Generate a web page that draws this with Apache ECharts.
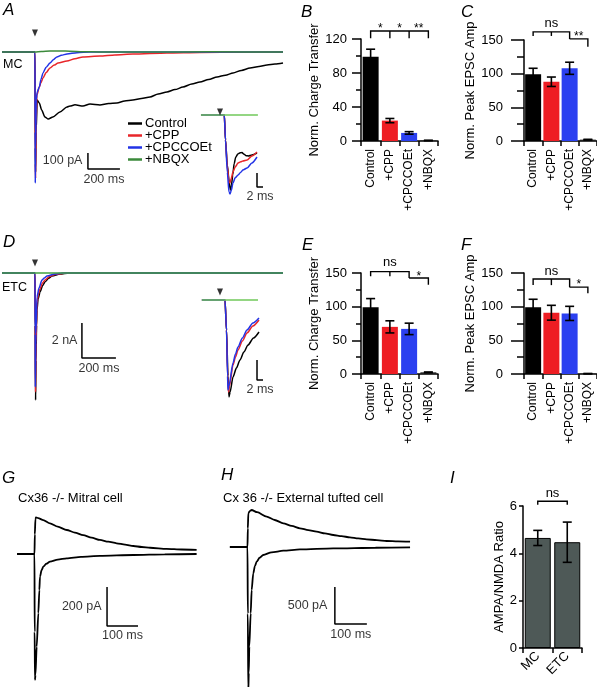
<!DOCTYPE html>
<html><head><meta charset="utf-8">
<script src="https://cdn.jsdelivr.net/npm/echarts@6/dist/echarts.min.js"></script>
<style>html,body{margin:0;padding:0;background:#fff}#c{width:597px;height:687px}</style>
</head><body><div id="c"></div>
<script>
const FONT = '"Liberation Sans", Arial, Helvetica, sans-serif';

// ---------- categories ----------
const drugCats = ['Control', '+CPP', '+CPCCOEt', '+NBQX'];
const cellCats = ['MC', 'ETC'];

// ---------- bar data ----------
const chargeMC = [99, 24, 9.5, 0.6];
const chargeMCErr = [9, 2.5, 1.5, 0.3];
const ampMC = [99, 88, 108, 2];
const ampMCErr = [9, 7, 9, 0.5];
const chargeETC = [99, 70, 67, 2.5];
const chargeETCErr = [13, 9, 8.5, 0.5];
const ampETC = [99, 91, 90, 0.5];
const ampETCErr = [12, 11, 10.5, 0.3];
const ratioVals = [4.65, 4.47];
const ratioErr = [0.32, 0.85];

// significance labels
const sigB = ['*', '*', '**'];
const sigC = ['ns', '**'];
const sigE = ['ns', '*'];
const sigF = ['ns', '*'];
const sigI = ['ns'];

// ---------- traces, panel A (ms, pA) ----------
const ctrlA = [[-206,0],[-5,0],[0,0],[2,-600],[4,-750],[7,-500],[14,-300],[27,-319],[42,-363],[62,-406],[83,-419],[112,-406],[156,-375],[200,-344],[219,-338],[250,-330],[300,-338],[344,-325],[406,-331],[460,-322],[512,-319],[560,-306],[612,-300],[665,-291],[719,-281],[770,-263],[825,-250],[875,-235],[925,-219],[980,-200],[1031,-188],[1085,-172],[1138,-156],[1190,-145],[1238,-131],[1290,-115],[1344,-100],[1400,-90],[1450,-81],[1500,-75],[1550,-69]];
const cppA = [[-206,0],[0,0],[2,-700],[4,-790],[7,-450],[12,-270],[27,-219],[38,-190],[50,-163],[70,-128],[94,-100],[120,-82],[144,-69],[200,-56],[250,-42],[300,-31],[406,-25],[500,-18],[612,-13],[825,-6],[1031,-3],[1300,-1],[1550,0]];
const cpcA = [[-206,0],[0,0],[1,-500],[2,-819],[4,-600],[8,-300],[14,-250],[27,-219],[38,-170],[50,-131],[70,-95],[94,-69],[115,-48],[137,-31],[165,-20],[200,-13],[262,-4],[344,0],[1550,0]];
const nbqxA = [[-206,0],[0,0],[40,3],[94,6],[160,6],[219,5],[300,2],[406,0],[700,0],[1100,1],[1550,0]];
// inset A (ms, pA)
const ctrlAi = [[-7.7,0],[0,0],[0.4,-175],[1.0,-350],[1.57,-455],[1.9,-515],[2.1,-525],[2.4,-490],[2.8,-420],[3.3,-340],[3.8,-295],[4.5,-273],[5.3,-264],[5.9,-263],[6.6,-275],[7.3,-285],[8.0,-287],[9.2,-280],[10.9,-266]];
const cppAi = [[-7.7,0],[0,0],[0.4,-175],[1.0,-360],[1.57,-469],[1.9,-475],[2.3,-445],[2.9,-399],[3.6,-365],[4.6,-336],[5.5,-328],[6.2,-322],[7.6,-315],[9.2,-287],[10.9,-259]];
const cpcAi = [[-7.7,0],[0,0],[0.4,-175],[1.0,-400],[1.57,-540],[1.9,-553],[2.3,-530],[2.9,-476],[3.6,-440],[4.6,-420],[5.5,-400],[6.2,-385],[7.6,-371],[9.2,-336],[10.9,-294]];
const nbqxAi = [[-7.8,0],[11.2,0]];

// ---------- traces, panel D (ms, nA) ----------
const ctrlD = [[-194,0],[0,0],[1,-3],[3.5,-7.26],[6,-5],[9,-3],[11.8,-2.11],[18,-1.5],[29.4,-1.09],[45,-0.72],[58.8,-0.51],[80,-0.3],[100,-0.17],[147,-0.06],[200,0],[1459,0]];
const cppD = [[-194,0],[0,0],[1,-3],[2.9,-6.8],[6,-4],[11.8,-1.71],[20,-1.2],[29.4,-0.91],[45,-0.55],[58.8,-0.4],[85,-0.2],[118,-0.09],[180,0],[1459,0]];
const cpcD = [[-194,0],[0,0],[1,-3.5],[1.8,-6.51],[5,-3.5],[11.8,-1.37],[23.5,-0.86],[41,-0.4],[55,-0.28],[70.6,-0.17],[118,-0.06],[160,0],[1459,0]];
const nbqxD = [[-194,0],[1459,0]];
// inset D
const ctrlDi = [[-7.7,0],[0,0],[0.5,-1.5],[1.0,-3.8],[1.33,-4.85],[1.7,-4.6],[2.67,-3.85],[3.8,-3.4],[5,-3.0],[6.3,-2.6],[7.67,-2.25],[9.5,-1.9],[11.33,-1.6]];
const cppDi = [[-7.7,0],[0,0],[0.5,-1.5],[0.9,-3.8],[1.17,-4.6],[1.5,-4.3],[2.67,-3.25],[3.5,-2.85],[4.33,-2.5],[5.8,-2.05],[7.33,-1.65],[9.3,-1.3],[11.33,-1.0]];
const cpcDi = [[-7.7,0],[0,0],[0.5,-1.5],[0.85,-3.8],[1.0,-4.5],[1.3,-4.3],[2.67,-3.15],[3.5,-2.7],[4.33,-2.35],[5.8,-1.9],[7.33,-1.5],[9.3,-1.15],[11.33,-0.9]];
const nbqxDi = [[-7.7,0],[11,0]];

// ---------- traces, panels G and H (ms, pA) ----------
const upG = [[-56,0],[0,0],[1,100],[3,180],[4.8,188],[12,184],[28.5,174],[50,157],[75,140],[104,123],[130,110],[157,97],[184,84],[211,72],[238,63],[265,55],[292,48],[319,41],[346,36],[373,32],[426,26],[475,23],[523,21]];
const downG = [[-56,0],[0,0],[0.5,-400],[1.5,-646],[3,-620],[7,-476],[12.4,-303],[15.6,-185],[17.7,-116],[23,-82],[28.5,-65],[38,-50],[50,-39],[75,-29],[104,-22],[150,-15],[211,-10],[319,-5],[420,-2],[523,0]];
const upH = [[-55,0],[0,0],[1,250],[2.6,455],[7,485],[13,500],[30,470],[60,410],[85,365],[112,320],[138,285],[164,252],[190,228],[216,207],[242,184],[268,162],[294,146],[320,131],[346,117],[372,104],[404,92],[435,81],[470,76],[508,72]];
const downH = [[-55,0],[0,0],[1,-900],[2.5,-1950],[4,-1700],[5.6,-1346],[10,-896],[13,-581],[18,-356],[23,-260],[28.6,-198],[38,-145],[49,-108],[75,-72],[112,-50],[164,-32],[268,-18],[400,-10],[508,-5]];

// ---------- stimulus markers ----------
const stimA = [[0, 119]];
const stimAi = [[-1.43, 21]];
const stimD = [[0, 0.57]];
const stimDi = [[-1.67, 0.4]];

// ---------- scale bars ----------
const barA = [[331,-631],[331,-731],[531,-731]];
const barAi = [[10.9,-406],[10.9,-504],[12.9,-504]];
const barD = [[276,-2.86],[276,-4.86],[476,-4.86]];
const barDi = [[10.67,-3.0],[10.67,-4.0],[12.67,-4.0]];
const barG = [[234,-169],[234,-369],[334,-369]];
const barH = [[273,-540],[273,-1040],[373,-1040]];
const labA = ['100 pA', '200 ms'];
const labAi = ['2 ms'];
const labD = ['2 nA', '200 ms'];
const labDi = ['2 ms'];
const labG = ['200 pA', '100 ms'];
const labH = ['500 pA', '100 ms'];

const drugColors = ['#000000', '#ee1d23', '#2b40f0', '#222222'];
const traceCol = { ctrl: '#000000', cpp: '#e8262a', cpc: '#2233e6', nbqxMain: '#3b8a3b', nbqxD: '#40a040', nbqxIn: '#70c95a' };

// ---------- layout ----------
const grids = [
  { left: 2, top: 28, width: 281, height: 160 },        // 0 A main
  { left: 200.3, top: 107.86, width: 66, height: 92.86 },// 1 A inset
  { left: 2, top: 259, width: 281, height: 147 },        // 2 D main
  { left: 201, top: 288, width: 66, height: 116 },       // 3 D inset
  { left: 15.9, top: 505.25, width: 186, height: 185.25 },// 4 G
  { left: 228.3, top: 502.6, width: 188.8, height: 192.4 },// 5 H
  { left: 361, top: 39, width: 77, height: 102 },        // 6 B
  { left: 524, top: 40, width: 73, height: 101 },        // 7 C
  { left: 361, top: 273, width: 77, height: 101 },       // 8 E
  { left: 524, top: 273, width: 73, height: 101 },       // 9 F
  { left: 523, top: 506, width: 59, height: 142 }        // 10 I
].map(g => Object.assign({ outerBoundsMode: 'none', containLabel: false }, g));

const traceRanges = [
  [-206, 1550, -850, 150],
  [-8, 14, -600, 50],
  [-194.1, 1458.8, -7.6, 0.8],
  [-8, 14, -5.2, 0.6],
  [-60, 540, -700, 250],
  [-60, 530, -2000, 600]
];

const xAxes = [], yAxes = [];
traceRanges.forEach((r, i) => {
  xAxes.push({ type: 'value', gridIndex: i, min: r[0], max: r[1], show: false });
  yAxes.push({ type: 'value', gridIndex: i, min: r[2], max: r[3], show: false });
});

const axLine = { show: true, lineStyle: { color: '#000', width: 1.5 } };
function barXAxis(gi, cats, rotate, fs, margin) {
  return { type: 'category', gridIndex: gi, data: cats,
    axisLine: axLine,
    axisTick: { show: true, alignWithLabel: false, length: 5, lineStyle: { color: '#000', width: 1.5 } },
    axisLabel: { rotate: rotate, fontSize: fs, margin: margin, color: '#000', fontFamily: FONT },
    splitLine: { show: false } };
}
function barYAxis(gi, max, interval, name, tickLen, minorLen, margin, nameGap, minor) {
  return { type: 'value', gridIndex: gi, min: 0, max: max, interval: interval,
    axisLine: axLine,
    axisTick: { show: true, length: tickLen, lineStyle: { color: '#000', width: 1.5 } },
    minorTick: { show: minor, splitNumber: 2, length: minorLen, lineStyle: { color: '#000', width: 1.5 } },
    splitLine: { show: false }, minorSplitLine: { show: false },
    axisLabel: { fontSize: 13, margin: margin, color: '#000', fontFamily: FONT },
    name: name, nameLocation: 'middle', nameGap: nameGap,
    nameTextStyle: { fontSize: 13, color: '#000', fontFamily: FONT } };
}
xAxes.push(barXAxis(6, drugCats, 90, 12, 8));
yAxes.push(barYAxis(6, 120, 40, 'Norm. Charge Transfer', 9, 5, 14, 36, true));
xAxes.push(barXAxis(7, drugCats, 90, 12, 8));
yAxes.push(barYAxis(7, 150, 50, 'Norm. Peak EPSC Amp', 13, 7, 21, 44, true));
xAxes.push(barXAxis(8, drugCats, 90, 12, 8));
yAxes.push(barYAxis(8, 150, 50, 'Norm. Charge Transfer', 9, 5, 14, 36, true));
xAxes.push(barXAxis(9, drugCats, 90, 12, 8));
yAxes.push(barYAxis(9, 150, 50, 'Norm. Peak EPSC Amp', 13, 7, 21, 44, true));
xAxes.push(barXAxis(10, cellCats, 45, 13, 6));
yAxes.push(barYAxis(10, 6, 2, 'AMPA/NMDA Ratio', 4, 2, 6, 17, false));

const series = [];
function trace(gi, data, color, width, name) {
  series.push({ type: 'line', name: name || undefined, xAxisIndex: gi, yAxisIndex: gi, data: data,
    symbol: 'none', smooth: 0.25, smoothMonotone: 'x', silent: true,
    lineStyle: { color: color, width: width }, itemStyle: { color: color } });
}
function scaleBar(gi, data, labels, posV) {
  series.push({ type: 'line', xAxisIndex: gi, yAxisIndex: gi, data: data, symbol: 'none', silent: true,
    lineStyle: { color: '#000', width: 1.5 } });
  const pts = [];
  if (labels.length === 2) {
    pts.push({ value: [data[0][0], (data[0][1] + data[1][1]) / 2],
      label: { show: true, position: 'left', distance: posV[0], formatter: labels[0] } });
    pts.push({ value: [(data[1][0] + data[2][0]) / 2, data[1][1]],
      label: { show: true, position: 'bottom', distance: posV[1], formatter: labels[1] } });
  } else {
    pts.push({ value: [(data[1][0] + data[2][0]) / 2, data[1][1]],
      label: { show: true, position: 'bottom', distance: posV[0], formatter: labels[0] } });
  }
  series.push({ type: 'scatter', xAxisIndex: gi, yAxisIndex: gi, data: pts, symbolSize: 1, silent: true,
    itemStyle: { color: 'transparent' },
    label: { color: '#000', fontSize: 12.5, fontFamily: FONT } });
}
function stim(gi, data) {
  series.push({ type: 'scatter', xAxisIndex: gi, yAxisIndex: gi, data: data, symbol: 'triangle',
    symbolRotate: 180, symbolSize: [6, 7], itemStyle: { color: '#000' }, silent: true, z: 5 });
}

// Panel A
trace(0, ctrlA, traceCol.ctrl, 1.5, 'Control');
trace(0, cppA, traceCol.cpp, 1.5, '+CPP');
trace(0, cpcA, traceCol.cpc, 1.5, '+CPCCOEt');
trace(0, nbqxA, traceCol.nbqxMain, 1.5, '+NBQX');
stim(0, stimA);
scaleBar(0, barA, labA, [5, 4]);
trace(1, ctrlAi, traceCol.ctrl, 1.5);
trace(1, cppAi, traceCol.cpp, 1.5);
trace(1, cpcAi, traceCol.cpc, 1.5);
trace(1, nbqxAi, traceCol.nbqxIn, 1.5);
stim(1, stimAi);
scaleBar(1, barAi, labAi, [3]);
// Panel D
trace(2, ctrlD, traceCol.ctrl, 1.5);
trace(2, cppD, traceCol.cpp, 1.5);
trace(2, cpcD, traceCol.cpc, 1.5);
trace(2, nbqxD, traceCol.nbqxD, 1.5);
stim(2, stimD);
scaleBar(2, barD, labD, [4, 3.5]);
trace(3, ctrlDi, traceCol.ctrl, 1.5);
trace(3, cppDi, traceCol.cpp, 1.5);
trace(3, cpcDi, traceCol.cpc, 1.5);
trace(3, nbqxDi, traceCol.nbqxIn, 1.5);
stim(3, stimDi);
scaleBar(3, barDi, labDi, [3]);
// Panels G, H
trace(4, upG, '#000', 1.8);
trace(4, downG, '#000', 1.8);
scaleBar(4, barG, labG, [5, 2.5]);
trace(5, upH, '#000', 1.8);
trace(5, downH, '#000', 1.8);
scaleBar(5, barH, labH, [7, 3.5]);

// bar panels
function barPanel(gi, vals, errs, colors, barWidth, border) {
  series.push({ type: 'bar', xAxisIndex: gi, yAxisIndex: gi, barWidth: barWidth, silent: true,
    data: vals.map((v, i) => ({ value: v, itemStyle: { color: colors[i % colors.length],
      borderColor: border ? '#000' : undefined, borderWidth: border ? 1 : 0 } })) });
  series.push({ type: 'custom', xAxisIndex: gi, yAxisIndex: gi, clip: false, silent: true, z: 5,
    data: vals.map((v, i) => [i, v, errs[i]]), encode: { x: 0, y: 1 },
    renderItem: function (params, api) {
      const i = api.value(0), m = api.value(1), e = api.value(2);
      const t = api.coord([i, m + e]), b = api.coord([i, m - e]);
      const h = 4.5, st = { stroke: '#000', lineWidth: 1.6 };
      return { type: 'group', children: [
        { type: 'line', shape: { x1: t[0], y1: t[1], x2: b[0], y2: b[1] }, style: st },
        { type: 'line', shape: { x1: t[0] - h, y1: t[1], x2: t[0] + h, y2: t[1] }, style: st },
        { type: 'line', shape: { x1: b[0] - h, y1: b[1], x2: b[0] + h, y2: b[1] }, style: st }
      ] };
    } });
}
function brackets(gi, paths, texts) {
  series.push({ type: 'custom', xAxisIndex: gi, yAxisIndex: gi, clip: false, silent: true, z: 6,
    data: [[0, 0]], encode: { x: 0, y: 1 },
    renderItem: function (params, api) {
      const px = (c, v) => {
        const f = Math.floor(c), g = Math.ceil(c);
        const a = api.coord([f, v]), b = api.coord([g, v]);
        return [a[0] + (b[0] - a[0]) * (c - f), a[1]];
      };
      const ch = paths.map(p => ({ type: 'polyline', shape: { points: p.map(q => px(q[0], q[1])) },
        style: { stroke: '#000', lineWidth: 1.4, fill: null } }));
      texts.forEach(tx => {
        const p = px(tx[0], tx[1]);
        ch.push({ type: 'text', x: p[0], y: p[1], style: { text: tx[2], fill: '#000',
          fontSize: tx[2] === 'ns' ? 13 : 12, fontFamily: FONT, align: 'center', verticalAlign: 'middle' } });
      });
      return { type: 'group', children: ch };
    } });
}
barPanel(6, chargeMC, chargeMCErr, drugColors, 16);
brackets(6, [[[0,121],[0,129.4],[3,129.4],[3,121]], [[1,129.4],[1,121]], [[2,129.4],[2,121]]],
  [[0.5,132.5,sigB[0]], [1.5,132.5,sigB[1]], [2.5,132.5,sigB[2]]]);
barPanel(7, ampMC, ampMCErr, drugColors, 16);
brackets(7, [[[0,156],[0,162],[2,162],[2,151.6]], [[1,162],[1,156]], [[2,151.6],[3,151.6],[3,140]]],
  [[1,174,sigC[0]], [2.5,155.4,sigC[1]]]);
barPanel(8, chargeETC, chargeETCErr, drugColors, 16);
brackets(8, [[[0,145],[0,152],[2,152],[2,142.6]], [[1,152],[1,145]], [[2,142.6],[3,142.6],[3,132.6]]],
  [[1,165,sigE[0]], [2.5,145,sigE[1]]]);
barPanel(9, ampETC, ampETCErr, drugColors, 16);
brackets(9, [[[0,132],[0,141],[2,141],[2,129]], [[1,141],[1,132]], [[2,129],[3,129],[3,120]]],
  [[1,152.5,sigF[0]], [2.5,132.6,sigF[1]]]);
barPanel(10, ratioVals, ratioErr, ['#4e5957'], 26, true);
brackets(10, [[[0,6.05],[0,6.2],[1,6.2],[1,6.05]]], [[0.5,6.55,sigI[0]]]);

function txt(x, y, s, size, italic, va) {
  return { type: 'text', x: x, y: y, silent: true, style: { text: s, fill: '#000', fontSize: size,
    fontFamily: FONT, fontStyle: italic ? 'italic' : 'normal', verticalAlign: va || 'top' } };
}
const graphic = [
  txt(3, 2, 'A', 17, true), txt(301, 4, 'B', 17, true), txt(461, 4, 'C', 17, true),
  txt(3, 234, 'D', 17, true), txt(302, 237, 'E', 17, true), txt(461, 237, 'F', 17, true),
  txt(2, 470, 'G', 17, true), txt(221, 467, 'H', 17, true), txt(450, 470, 'I', 17, true),
  txt(3, 58, 'MC', 12.5), txt(2, 281, 'ETC', 12.5),
  txt(18, 498, 'Cx36 -/- Mitral cell', 13, false, 'middle'),
  txt(223, 498, 'Cx 36 -/- External tufted cell', 13, false, 'middle')
];

const chart = echarts.init(document.getElementById('c'), null, { renderer: 'canvas' });
chart.setOption({
  animation: false,
  backgroundColor: '#fff',
  textStyle: { fontFamily: FONT },
  grid: grids,
  xAxis: xAxes,
  yAxis: yAxes,
  legend: { data: ['Control', '+CPP', '+CPCCOEt', '+NBQX'], orient: 'vertical', left: 123, top: 112,
    icon: 'rect', itemWidth: 14, itemHeight: 2.5, itemGap: -1, selectedMode: false,
    textStyle: { fontSize: 13, color: '#000', fontFamily: FONT, padding: [0, 0, 0, -2] } },
  graphic: graphic,
  series: series
});
</script></body></html>
